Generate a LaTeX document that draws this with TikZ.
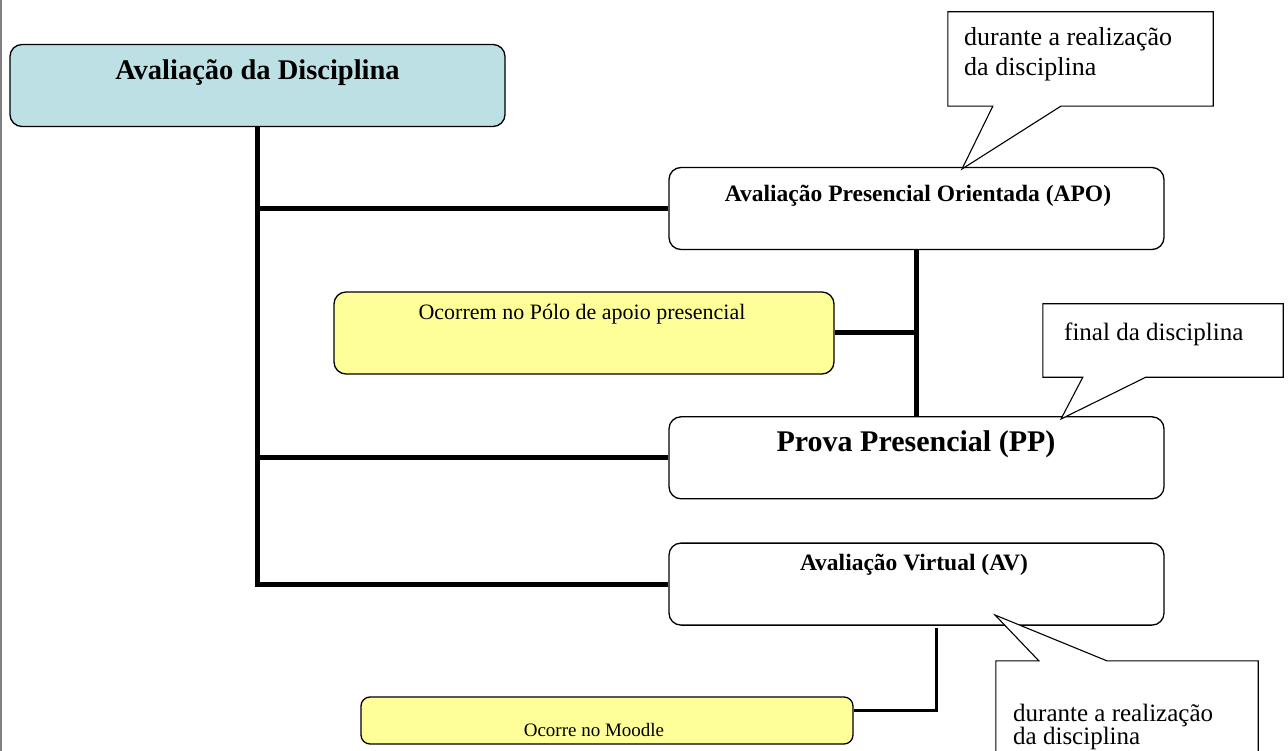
\documentclass[tikz,border=0pt]{standalone}
\usepackage{fontspec}
\setmainfont{Liberation Serif}
\usetikzlibrary{positioning,calc}
\definecolor{softteal}{RGB}{188,224,228}
\definecolor{softyellow}{RGB}{255,255,153}
\tikzset{
  evalbox/.style={draw, line width=1.3pt, rounded corners=12pt, inner sep=0pt, minimum width=495pt, minimum height=82pt},
  boldtext/.style={font=\bfseries\fontsize{23.5}{27}\selectfont, inner sep=0pt},
  notetext/.style={font=\fontsize{26}{30}\selectfont, align=left, inner sep=0pt},
  trunk/.style={line width=5pt},
  thinlink/.style={line width=3pt},
  noteline/.style={line width=1.1pt, fill=white}
}
\begin{document}
\begin{tikzpicture}[x=1pt, y=-1pt]
      \useasboundingbox (0,0) rectangle (1288,751);
      \draw[gray, line width=2pt] (1,0) -- (1,751);
      \node[evalbox, fill=softteal] (disc) at (257.5,85.5) {};
      \node[boldtext, font=\bfseries\fontsize{28.5}{32}\selectfont] (disctext) at (257.5,73) {Avaliação da Disciplina};
      \node[evalbox] (apo) at (916.5,208.5) {};
      \node[evalbox, below=166pt of apo] (pp) {};
      \node[evalbox, below=43pt of pp] (av) {};
      \node[boldtext] (apotext) at (918,196) {Avaliação Presencial Orientada (APO)};
      \node[boldtext, font=\bfseries\fontsize{30}{34}\selectfont] (pptext) at (916,444) {Prova Presencial (PP)};
      \node[boldtext] (avtext) at (914,565) {Avaliação Virtual (AV)};
      \node[evalbox, fill=softyellow, minimum width=500pt] (polo) at (584,333) {};
      \node[notetext, font=\fontsize{22}{26}\selectfont] (polotext) at (582,314) {Ocorrem no Pólo de apoio presencial};
      \node[evalbox, fill=softyellow, minimum width=492pt, minimum height=47pt, rounded corners=9pt] (moodle) at (607,720.5) {};
      \node[notetext, font=\fontsize{19}{22}\selectfont] (moodletext) at (594,730) {Ocorre no Moodle};
      \draw[trunk] (disc.south) |- (av.west);
      \draw[trunk] (disc.south |- apo.west) -- (apo.west);
      \draw[trunk] (disc.south |- pp.west) -- (pp.west);
      \draw[trunk] (apo.south) -- (pp.north);
      \draw[trunk] (polo.east) -- (polo.east -| apo.south);
      \coordinate (avlink) at (936,628);
      \draw[thinlink] (avlink) |- ([yshift=10pt]moodle.east);
      \node[minimum width=265pt, minimum height=94pt, inner sep=0pt] (note1) at (1080.5,59) {};
      \coordinate (tip1) at (962,169);
      \draw[noteline] (note1.south west) -- (note1.north west) -- (note1.north east) -- (note1.south east)
        -- ($(note1.south west)+(113,0)$) -- (tip1) -- ($(note1.south west)+(45,0)$) -- cycle;
      \node[notetext, anchor=north west] (note1text) at (964,27) {durante a realização\\da disciplina};
      \node[minimum width=240pt, minimum height=73pt, inner sep=0pt] (note2) at (1163,340.5) {};
      \coordinate (tip2) at (1061,419);
      \draw[noteline] (note2.south west) -- (note2.north west) -- (note2.north east) -- (note2.south east)
        -- ($(note2.south west)+(103,0)$) -- (tip2) -- ($(note2.south west)+(40,0)$) -- cycle;
      \node[notetext, font=\fontsize{25}{29}\selectfont, anchor=west] (note2text) at (1064,334) {final da disciplina};
      \node[minimum width=262pt, minimum height=140pt, inner sep=0pt] (note3) at (1127,731) {};
      \coordinate (tip3) at (995,615);
      \draw[noteline] (note3.south west) -- (note3.north west) -- ($(note3.north west)+(43,0)$) -- (tip3)
        -- ($(note3.north west)+(111,0)$) -- (note3.north east) -- (note3.south east);
      \node[notetext, font=\fontsize{25}{23}\selectfont, anchor=north west] (note3text) at (1013,704) {durante a realização\\da disciplina};
    \end{tikzpicture}
\end{document}
